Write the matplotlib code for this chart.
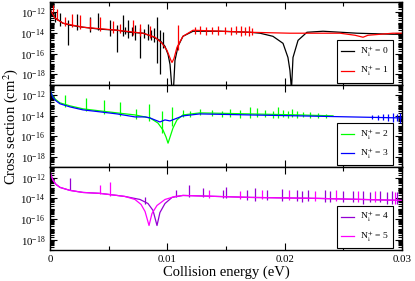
import numpy as np
import matplotlib
matplotlib.use('Agg')
import matplotlib.pyplot as plt
import matplotlib.ticker as ticker

plt.rcParams['font.family'] = 'serif'
plt.rcParams['font.serif'] = ['Liberation Serif', 'DejaVu Serif']
plt.rcParams['mathtext.fontset'] = 'stix'

# ---- data: collision energy (eV) and log10 of cross section (cm^2) ----
# panel 1 : N = 0 (black), N = 1 (red)
e_n0 = [0, 0.00017, 0.00043, 0.00085, 0.0011, 0.0017, 0.00281, 0.00426, 0.00571,
        0.00682, 0.00793, 0.00869, 0.00937, 0.0098, 0.01006, 0.01023, 0.0104, 0.01052,
        0.01065, 0.01091, 0.01133, 0.01219, 0.01449, 0.01705, 0.0179, 0.019, 0.01986,
        0.02028, 0.02045, 0.02058, 0.02071, 0.02114, 0.0219, 0.02327, 0.02616, 0.02923, 0.03]
s_n0 = [-11.59, -12.17, -12.56, -12.85, -13.05, -13.24, -13.44, -13.63, -13.73,
        -13.93, -14.02, -14.32, -14.71, -15.29, -16.07, -17.05, -19.5, -19.5,
        -16.66, -15.29, -14.32, -13.83, -13.83, -13.93, -14.02, -14.32, -15.0,
        -16.37, -17.63, -19.5, -16.37, -14.71, -13.93, -13.83, -14.02, -14.12, -14.12]
spk_e_n0 = [0.00043, 0.00085, 0.00153, 0.0023, 0.00341, 0.00409, 0.00511, 0.00571, 0.00622,
            0.00639, 0.00665, 0.00699, 0.00724, 0.00767, 0.00801, 0.00835, 0.0086, 0.00886,
            0.00912, 0.00937, 0.00963]
spk_hi_n0 = [-11.98, -12.07, -12.76, -12.17, -12.46, -12.07, -12.76, -13.24, -12.27,
             -13.44, -12.76, -13.44, -13.24, -13.54, -13.63, -13.15, -13.73, -13.54,
             -12.46, -13.73, -13.93]
spk_lo_n0 = [-12.95, -13.34, -15.2, -13.73, -13.93, -13.73, -14.32, -15.88, -14.32,
             -14.12, -14.51, -14.32, -14.71, -16.46, -14.51, -14.71, -14.71, -14.9,
             -16.95, -17.93, -15.49]

e_n1 = [0, 0.00017, 0.00043, 0.0011, 0.00281, 0.00571, 0.00793, 0.00895, 0.00955, 0.00997,
        0.01031, 0.0104, 0.01057, 0.01082, 0.01133, 0.01219, 0.01705, 0.02045, 0.02472,
        0.026, 0.02668, 0.0271, 0.02923, 0.03]
s_n1 = [-11.68, -12.07, -12.56, -13.05, -13.44, -13.73, -14.02, -14.41, -15.0, -15.68,
        -16.66, -16.85, -16.46, -15.39, -14.32, -13.73, -13.93, -14.02, -14.02,
        -14.22, -14.41, -14.22, -14.02, -14.02]
spk_e_n1 = [0.00026, 0.0006, 0.00128, 0.00187, 0.00256, 0.00341, 0.00426, 0.00537, 0.00597,
            0.00707, 0.00767, 0.00852, 0.01091, 0.01236, 0.01278, 0.0133, 0.01381, 0.01432,
            0.01491, 0.01543, 0.01585, 0.01628, 0.01662, 0.01696, 0.01722]
spk_hi_n1 = [-11.29, -11.68, -12.46, -12.17, -12.27, -12.56, -12.46, -12.85, -13.15,
             -12.76, -13.15, -13.34, -13.24, -13.44, -13.34, -13.44, -13.44, -13.34,
             -13.44, -13.44, -13.34, -13.34, -13.44, -13.34, -13.54]
spk_lo_n1 = [-11.98, -12.76, -13.34, -13.44, -13.63, -13.73, -13.83, -14.02, -14.02,
             -14.22, -14.32, -14.51, -15.68, -14.12, -14.12, -14.22, -14.12, -14.22,
             -14.12, -14.22, -14.12, -14.32, -14.22, -14.32, -14.22]

# panel 2 : N = 2 (green), N = 3 (blue)
e_n2 = [0, 0.00009, 0.00026, 0.00051, 0.00085, 0.0017, 0.00281, 0.00426, 0.00571, 0.00724,
        0.00852, 0.0092, 0.00963, 0.00989, 0.01006, 0.01023, 0.01048, 0.01082, 0.01133,
        0.01278, 0.01705, 0.02131, 0.02412]
s_n2 = [-11.29, -11.78, -12.17, -12.46, -12.76, -13.05, -13.34, -13.54, -13.73, -13.93,
        -14.22, -14.71, -15.39, -16.07, -16.66, -16.07, -15.2, -14.41, -13.93,
        -13.73, -13.83, -13.93, -14.02]
spk_e_n2 = [0.00128, 0.00307, 0.0046, 0.00597, 0.00733, 0.00844, 0.00955, 0.0104, 0.01133,
            0.01193, 0.01278, 0.01381, 0.01466, 0.01534, 0.01619, 0.01705, 0.01764, 0.01832,
            0.019, 0.01943, 0.01986, 0.02028, 0.02062, 0.02105, 0.02156, 0.02216, 0.02284,
            0.02352]
spk_hi_n2 = [-11.98, -12.27, -12.46, -12.66, -13.34, -12.85, -13.54, -13.15, -13.44,
             -13.54, -13.34, -13.44, -13.54, -13.34, -13.44, -13.15, -13.24, -13.44,
             -13.54, -13.15, -13.44, -13.54, -13.34, -13.54, -13.63, -13.63, -13.73,
             -13.83]
spk_lo_n2 = [-13.15, -13.54, -13.83, -14.02, -14.32, -14.51, -15.68, -15.0, -14.12,
             -14.12, -13.93, -14.02, -14.12, -14.12, -14.22, -14.22, -14.12, -14.12,
             -14.22, -14.22, -14.12, -14.22, -14.12, -14.22, -14.12, -14.22, -14.22,
             -14.22]

e_n3 = [0, 0.00009, 0.00026, 0.00051, 0.00085, 0.0017, 0.00281, 0.00426, 0.00571, 0.00724,
        0.0081, 0.00852, 0.00937, 0.0098, 0.01023, 0.01065, 0.01133, 0.01278, 0.01705,
        0.02131, 0.02557, 0.03]
s_n3 = [-11.29, -11.78, -12.27, -12.56, -12.85, -13.15, -13.44, -13.63, -13.83, -14.12,
        -14.12, -14.22, -14.61, -14.41, -14.51, -14.32, -14.02, -13.83, -13.93,
        -14.02, -14.12, -14.22]
spk_e_n3 = [0.02744, 0.02795, 0.02838, 0.02881, 0.02923, 0.02957, 0.02983]
spk_hi_n3 = [-13.93, -13.93, -13.83, -13.83, -13.73, -13.83, -13.73]
spk_lo_n3 = [-14.32, -14.41, -14.41, -14.51, -14.61, -14.51, -14.71]

# panel 3 : N = 4 (violet), N = 5 (magenta)
e_n4 = [0, 0.00009, 0.00026, 0.00051, 0.00085, 0.0017, 0.00281, 0.00426, 0.00571, 0.00639,
        0.00767, 0.00835, 0.00878, 0.00912, 0.00937, 0.0098, 0.0104, 0.01133, 0.01705,
        0.02301, 0.03]
s_n4 = [-11.29, -11.78, -12.26, -12.65, -12.94, -13.23, -13.43, -13.52, -13.72, -13.82,
        -14.11, -14.5, -15.17, -16.63, -15.37, -14.5, -13.91, -13.72, -13.91,
        -14.01, -14.2]
spk_e_n4 = [0.0017, 0.0081, 0.01074, 0.01185, 0.01304, 0.01474, 0.015, 0.01679, 0.01747,
            0.01849, 0.01977, 0.02105, 0.02148, 0.02199, 0.02344, 0.02386, 0.02497, 0.02582,
            0.02668, 0.02727, 0.02813, 0.02872, 0.02915, 0.02957]
spk_hi_n4 = [-12.07, -13.91, -13.23, -12.75, -13.04, -13.23, -12.94, -13.23, -13.04,
             -13.23, -13.14, -13.23, -13.33, -13.23, -13.23, -13.33, -13.33, -13.33,
             -13.33, -13.43, -13.33, -13.43, -13.33, -13.43]
spk_lo_n4 = [-13.23, -14.59, -13.91, -13.91, -13.91, -14.01, -14.01, -14.2, -14.3,
             -14.2, -14.3, -14.3, -14.4, -14.3, -14.4, -14.4, -14.4, -14.4,
             -14.5, -14.4, -14.4, -14.5, -14.5, -14.5]

e_n5 = [0, 0.00009, 0.00026, 0.00051, 0.00085, 0.0017, 0.00281, 0.00426, 0.00571, 0.00639,
        0.00724, 0.00776, 0.0081, 0.00844, 0.00869, 0.00912, 0.0098, 0.01065, 0.01133,
        0.01705, 0.02301, 0.03]
s_n5 = [-11.29, -11.78, -12.26, -12.65, -12.94, -13.23, -13.43, -13.52, -13.72, -13.82,
        -14.11, -14.59, -15.27, -16.63, -15.47, -14.69, -14.11, -13.82, -13.72,
        -13.91, -14.01, -14.2]
spk_e_n5 = [0.00426, 0.00511, 0.01355, 0.01619, 0.01807, 0.02037, 0.02258, 0.02437,
            0.02625, 0.0277, 0.0294]
spk_hi_n5 = [-12.75, -12.46, -13.23, -13.33, -13.23, -13.23, -13.33, -13.23, -13.33,
             -13.33, -13.43]
spk_lo_n5 = [-13.62, -13.82, -14.01, -14.11, -14.11, -14.2, -14.3, -14.3, -14.4,
             -14.4, -14.5]

panels = [
    [('0', 'black', e_n0, s_n0, spk_e_n0, spk_hi_n0, spk_lo_n0),
     ('1', 'red', e_n1, s_n1, spk_e_n1, spk_hi_n1, spk_lo_n1)],
    [('2', '#00ff00', e_n2, s_n2, spk_e_n2, spk_hi_n2, spk_lo_n2),
     ('3', '#0000ff', e_n3, s_n3, spk_e_n3, spk_hi_n3, spk_lo_n3)],
    [('4', '#9400d3', e_n4, s_n4, spk_e_n4, spk_hi_n4, spk_lo_n4),
     ('5', '#ff00ff', e_n5, s_n5, spk_e_n5, spk_hi_n5, spk_lo_n5)],
]

fig = plt.figure(figsize=(4.15, 2.81), dpi=100)
left, right = 50 / 415, 402 / 415
top, bottom = 1 - 2 / 281, 1 - 250 / 281
h = (top - bottom) / 3

for i, sets in enumerate(panels):
    ax = fig.add_axes([left, top - (i + 1) * h, right - left, h])
    handles = []
    for num, col, e, s, se, shi, slo in sets:
        ln, = ax.plot(e, 10.0 ** np.array(s), color=col, lw=0.9)
        ax.vlines(se, 10.0 ** np.array(slo), 10.0 ** np.array(shi), color=col, lw=0.9)
        ln.set_label(r'N$_{\mathrm{i}}^{+}$ = ' + num)
        handles.append(ln)

    ax.set_yscale('log')
    ax.set_ylim(1e-19, 1e-11)
    ax.set_xlim(0, 0.03)
    ax.yaxis.set_major_locator(ticker.FixedLocator([1e-18, 1e-16, 1e-14, 1e-12]))
    ax.yaxis.set_minor_locator(ticker.LogLocator(base=10, subs=np.arange(1, 10), numticks=100))
    ax.yaxis.set_minor_formatter(ticker.NullFormatter())
    ax.xaxis.set_major_locator(ticker.MultipleLocator(0.01))
    ax.xaxis.set_minor_locator(ticker.MultipleLocator(0.005))
    ax.xaxis.set_major_formatter(ticker.FuncFormatter(lambda v, p: '%g' % round(v, 4)))
    ax.tick_params(which='both', direction='in', top=True, right=True, labelsize=7.8, width=0.8)
    ax.tick_params(which='major', length=5)
    ax.tick_params(which='minor', length=3)
    if i < 2:
        ax.tick_params(labelbottom=False)
    for sp in ax.spines.values():
        sp.set_linewidth(1.0)

    leg = ax.legend(handles=handles, loc='lower right', bbox_to_anchor=(0.974, 0.024),
                    borderaxespad=0, fontsize=6.8, handlelength=1.4, handletextpad=0.6,
                    labelspacing=0.55, borderpad=0.45,
                    fancybox=False, framealpha=1, edgecolor='black')
    leg.get_frame().set_linewidth(0.8)

    if i == 1:
        ax.set_ylabel('Cross section (cm$^2$)', fontsize=10.5)
        ax.yaxis.set_label_coords(-0.085, 0.5)
    if i == 2:
        ax.set_xlabel('Collision energy (eV)', fontsize=10.5, labelpad=1)

fig.savefig('out.png', dpi=100)
